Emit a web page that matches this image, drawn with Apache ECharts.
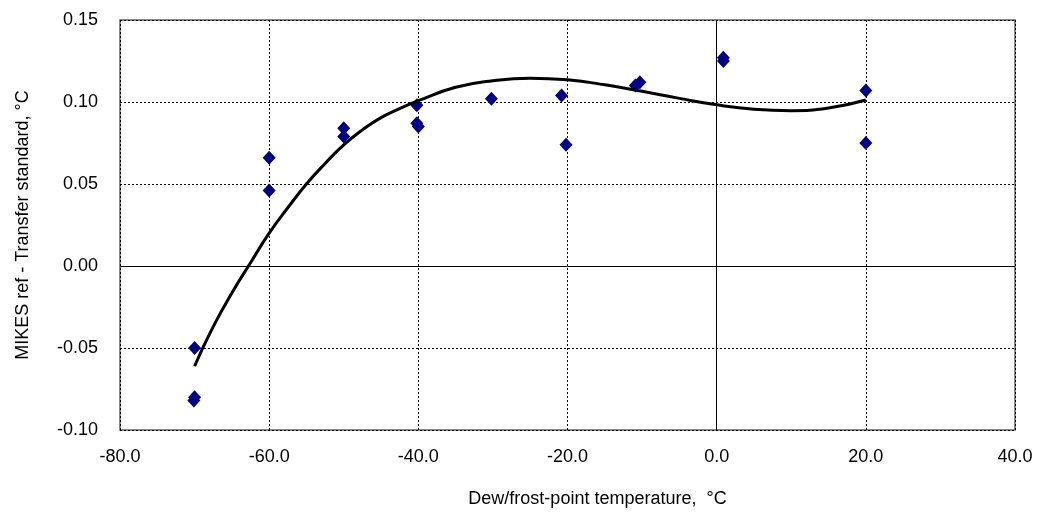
<!DOCTYPE html>
<html>
<head>
<meta charset="utf-8">
<script src="https://cdn.jsdelivr.net/npm/echarts@6/dist/echarts.min.js"></script>
<style>
  html, body { margin: 0; padding: 0; background: #fff; }
  #chart { width: 1040px; height: 518px; }
</style>
</head>
<body>
<div id="chart"></div>
<script>
// measured points: dew/frost-point temperature (°C) and MIKES ref - transfer standard (°C)
const pointTemp = [-70, -70, -70.1, -60, -60, -50, -50, -40.2, -40.2, -40, -30.2, -20.8, -20.2, -10.9, -10.3, 0.9, 0.9, 20, 20];
const pointDiff = [-0.050, -0.080, -0.082, 0.066, 0.046, 0.084, 0.079, 0.098, 0.087, 0.085, 0.102, 0.104, 0.074, 0.110, 0.112, 0.127, 0.125, 0.107, 0.075];

// trend curve
const trendTemp = [-70, -67.5, -65, -62.5, -60, -57.5, -55, -52.5, -50, -47.5, -45, -42.5, -40, -35, -30, -25, -20, -15, -10, -5, 0, 5, 10, 15, 20];
const trendDiff = [-0.061, -0.037, -0.0165, 0.002, 0.020, 0.0355, 0.050, 0.0625, 0.0738, 0.0830, 0.0905, 0.0960, 0.1008, 0.1090, 0.1130, 0.1145, 0.1135, 0.1105, 0.1065, 0.1022, 0.0983, 0.0956, 0.0947, 0.0963, 0.1012];

const chart = echarts.init(document.getElementById('chart'));

const font = 'Liberation Sans, Arial, sans-serif';

chart.setOption({
  backgroundColor: '#fff',
  animation: false,
  grid: {
    left: 120, right: 25, top: 20, bottom: 88,
    show: true, borderColor: '#606060', borderWidth: 1.5
  },
  xAxis: {
    type: 'value',
    min: -80, max: 40, interval: 20,
    name: 'Dew/frost-point temperature,  °C',
    nameLocation: 'middle',
    nameGap: 60,
    nameTextStyle: { fontFamily: font, fontSize: 18, color: '#000', padding: [0, 0, 0, 60] },
    axisLine: { show: false },
    axisTick: { show: false },
    axisLabel: {
      fontFamily: font, fontSize: 18, color: '#000', margin: 18,
      formatter: v => v.toFixed(1)
    },
    splitLine: { lineStyle: { color: '#000', type: [2, 2], width: 1 } }
  },
  yAxis: {
    type: 'value',
    min: -0.10, max: 0.15, interval: 0.05,
    name: 'MIKES ref - Transfer standard, °C',
    nameLocation: 'middle',
    nameGap: 88,
    nameTextStyle: { fontFamily: font, fontSize: 18, color: '#000' },
    axisLine: { show: false },
    axisTick: { show: false },
    axisLabel: {
      fontFamily: font, fontSize: 18, color: '#000', margin: 22,
      formatter: v => v.toFixed(2)
    },
    splitLine: { lineStyle: { color: '#000', type: [2, 2], width: 1 } }
  },
  series: [
    {
      type: 'scatter',
      data: pointTemp.map((t, i) => [t, pointDiff[i]]),
      symbol: 'diamond',
      symbolSize: [13, 14],
      itemStyle: { color: '#000080', opacity: 1 },
      z: 2,
      markLine: {
        silent: true,
        symbol: 'none',
        label: { show: false },
        lineStyle: { color: '#000', type: 'solid', width: 1 },
        data: [{ xAxis: 0 }, { yAxis: 0 }]
      }
    },
    {
      type: 'line',
      data: trendTemp.map((t, i) => [t, trendDiff[i]]),
      smooth: 0.5,
      showSymbol: false,
      lineStyle: { color: '#000', width: 3 },
      z: 3
    }
  ]
});
</script>
</body>
</html>
